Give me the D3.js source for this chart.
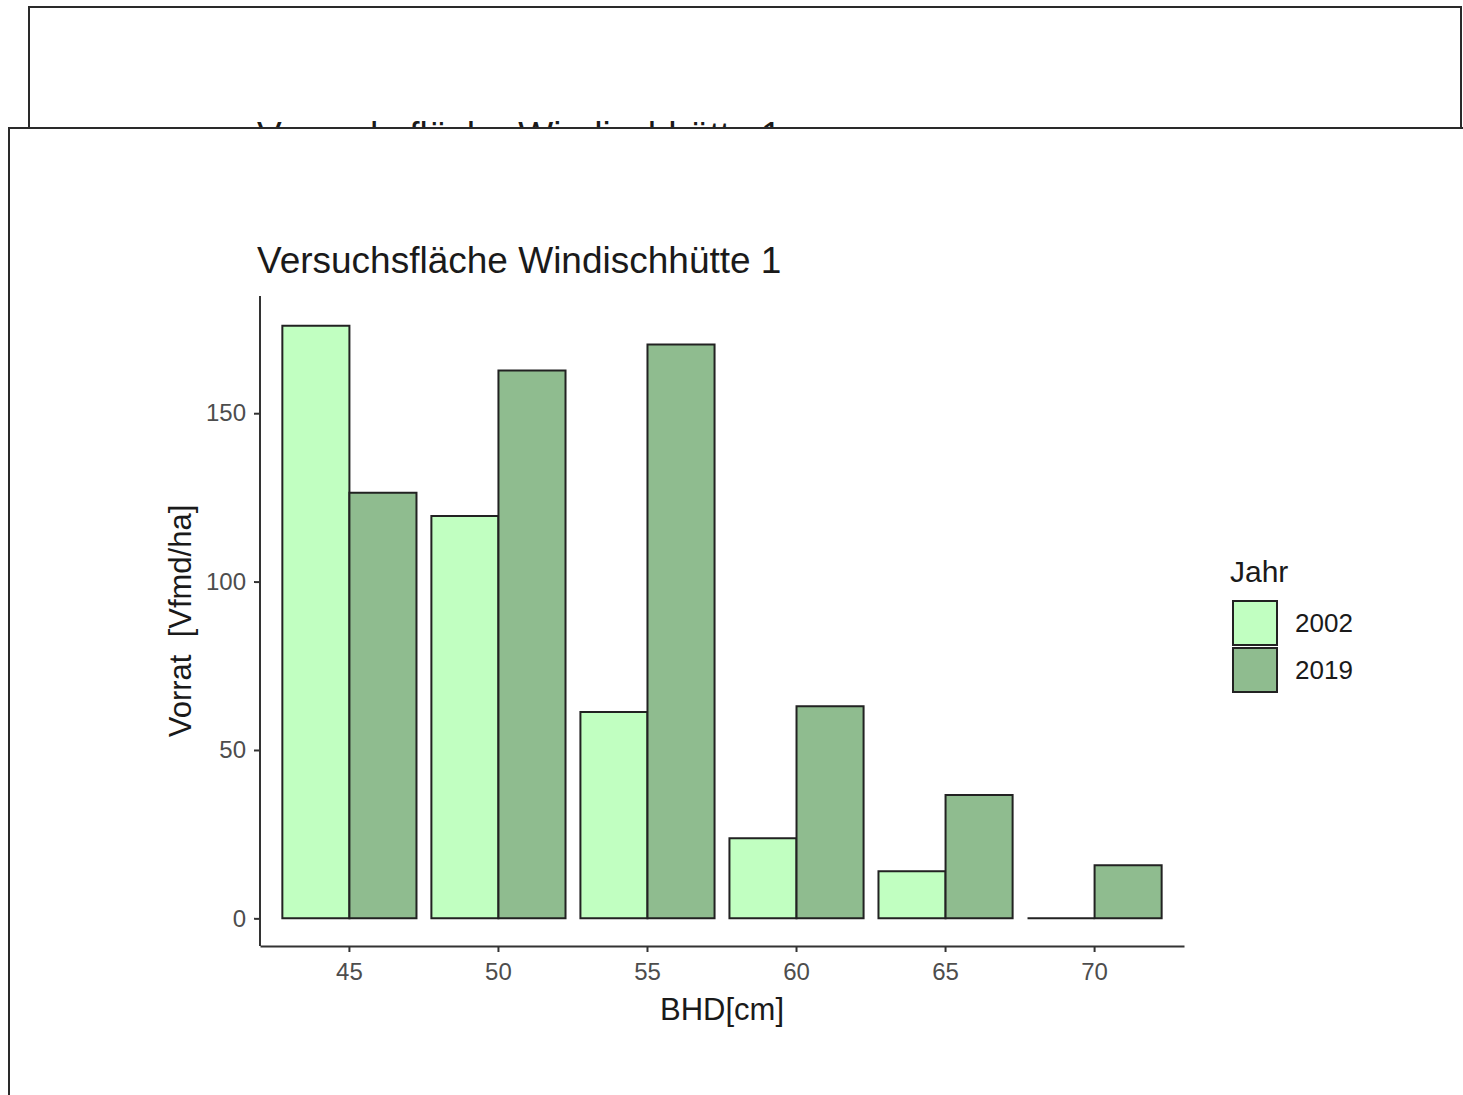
<!DOCTYPE html>
<html>
<head>
<meta charset="utf-8">
<script src="https://cdn.jsdelivr.net/npm/d3@7"></script>
<style>
  body { margin: 0; background: #fff; }
  svg { display: block; font-family: "Liberation Sans", Arial, sans-serif; }
</style>
</head>
<body>
<div id="chart"></div>
<script>
// data
const classes = ["45", "50", "55", "60", "65", "70"];
const years = ["2002", "2019"];
const vorrat2002 = [176, 119.5, 61.3, 23.8, 14.0, 0];
const vorrat2019 = [126.4, 162.7, 170.4, 63.0, 36.6, 15.8];
const yTicks = [0, 50, 100, 150];
const colors = { "2002": "#C1FFC1", "2019": "#8FBC8F" };
const titleText = "Versuchsfläche Windischhütte 1";

const data = [];
classes.forEach((c, i) => {
    data.push({ cls: c, year: "2002", value: vorrat2002[i] });
    data.push({ cls: c, year: "2019", value: vorrat2019[i] });
});

const svg = d3.select("#chart").append("svg")
    .attr("width", 1463)
    .attr("height", 1095);

// the screenshot behind: an old copy of the plot, mostly covered
svg.append("rect")
    .attr("x", 29).attr("y", 7)
    .attr("width", 1432).attr("height", 121)
    .attr("fill", "#fff")
    .attr("stroke", "#2a2a2a").attr("stroke-width", 2);
svg.append("text")
    .attr("x", 257).attr("y", 148)
    .attr("font-size", 37)
    .attr("fill", "#1a1a1a")
    .text(titleText);

// front window
svg.append("rect")
    .attr("x", 9).attr("y", 128)
    .attr("width", 1500).attr("height", 1000)
    .attr("fill", "#fff")
    .attr("stroke", "#2a2a2a").attr("stroke-width", 2);

const panel = { left: 260, right: 1184, top: 296, bottom: 946 };

const x = d3.scaleBand()
    .domain(classes)
    .range([panel.left, panel.right])
    .paddingInner(0.1)
    .paddingOuter(0.15);

const xSub = d3.scaleBand()
    .domain(years)
    .range([0, x.bandwidth()]);

const yMax = d3.max(data, d => d.value);
const y = d3.scaleLinear()
    .domain([-0.05 * yMax, yMax * 1.05])
    .range([948, panel.top]);

// bars (paths, so a zero bar still shows its outline)
svg.append("g")
    .selectAll("path")
    .data(data)
    .enter().append("path")
    .attr("d", d => {
        const x0 = x(d.cls) + xSub(d.year);
        return "M" + x0 + "," + y(0) + "H" + (x0 + xSub.bandwidth()) +
            "V" + y(d.value) + "H" + x0 + "Z";
    })
    .attr("fill", d => colors[d.year])
    .attr("stroke", "#222")
    .attr("stroke-width", 2);

// axes
const xAxis = d3.axisBottom(x).tickSize(6).tickPadding(11).tickSizeOuter(0);
const yAxis = d3.axisLeft(y).tickValues(yTicks).tickSize(6).tickPadding(8).tickSizeOuter(0);

const gx = svg.append("g")
    .attr("class", "x axis")
    .attr("transform", "translate(0," + panel.bottom + ")")
    .call(xAxis);
const gy = svg.append("g")
    .attr("class", "y axis")
    .attr("transform", "translate(" + panel.left + ",0)")
    .call(yAxis);
gy.select(".domain").attr("d", "M0," + panel.top + "V" + panel.bottom);

[gx, gy].forEach(g => {
    g.select(".domain").attr("stroke", "#333").attr("stroke-width", 2);
    g.selectAll(".tick line").attr("stroke", "#333").attr("stroke-width", 2);
    g.selectAll(".tick text")
        .attr("font-size", 24)
        .attr("fill", "#4d4d4d")
        .attr("font-family", "Liberation Sans, Arial, sans-serif");
});

// titles
svg.append("text")
    .attr("x", 257).attr("y", 273)
    .attr("font-size", 37)
    .attr("fill", "#1a1a1a")
    .text(titleText);

svg.append("text")
    .attr("x", (panel.left + panel.right) / 2)
    .attr("y", 1020)
    .attr("text-anchor", "middle")
    .attr("font-size", 31)
    .attr("fill", "#1a1a1a")
    .text("BHD[cm]");

svg.append("text")
    .attr("transform", "translate(191," + 621 + ") rotate(-90)")
    .attr("text-anchor", "middle")
    .attr("font-size", 31)
    .attr("fill", "#1a1a1a")
    .attr("xml:space", "preserve")
    .style("white-space", "pre")
    .text("Vorrat  [Vfmd/ha]");

// legend
const legend = svg.append("g").attr("transform", "translate(1231,0)");
legend.append("text")
    .attr("x", -1).attr("y", 582)
    .attr("font-size", 30)
    .attr("fill", "#1a1a1a")
    .text("Jahr");

const keys = legend.selectAll("g.key")
    .data(years)
    .enter().append("g")
    .attr("class", "key")
    .attr("transform", (d, i) => "translate(0," + (601 + i * 47) + ")");
keys.append("rect")
    .attr("x", 2).attr("y", 0)
    .attr("width", 44).attr("height", 44)
    .attr("fill", d => colors[d])
    .attr("stroke", "#222")
    .attr("stroke-width", 2);
keys.append("text")
    .attr("x", 64).attr("y", 22)
    .attr("dy", "0.35em")
    .attr("font-size", 26)
    .attr("fill", "#1a1a1a")
    .text(d => d);
</script>
</body>
</html>
